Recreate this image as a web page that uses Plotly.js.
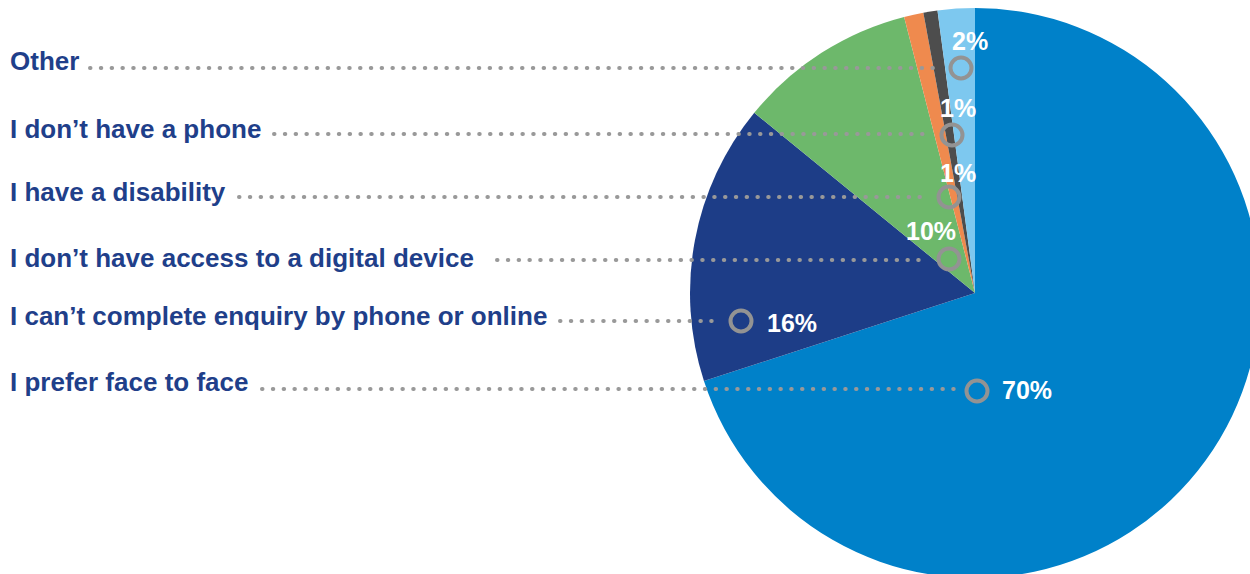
<!DOCTYPE html>
<html>
<head>
<meta charset="utf-8">
<script src="https://cdn.plot.ly/plotly-3.0.1.min.js"></script>
<style>
  html, body { margin: 0; padding: 0; overflow: hidden; background: #ffffff; }
  #chart { width: 1262px; height: 580px; }
  .shapelayer path { stroke-linecap: round; }
</style>
</head>
<body>
<div id="chart"></div>
<script>
// ---- data ----
var categories = [
  "I prefer face to face",
  "I can\u2019t complete enquiry by phone or online",
  "I don\u2019t have access to a digital device",
  "I have a disability",
  "I don\u2019t have a phone",
  "Other"
];
var shares = [70.0, 15.9, 10.1, 1.1, 0.8, 2.1];
var colors = ["#0081C9", "#1D3D87", "#6DB86B", "#EF8A4E", "#4D4D4D", "#7DC8EF"];

// ---- layout helpers (pixel positions of the callouts) ----
var W = 1262, H = 580;
function px(x) { return x / W; }
function py(y) { return 1 - y / H; }

// label rows: [label cap-centre y, dots start x, dots y, ring centre x, ring centre y, pct text x, pct text y]
var rows = [
  [381, 262, 389, 977, 391, 1000, 389],
  [315, 560, 321, 741, 321, 765, 322],
  [257, 497, 260, 949, 259, 904, 230],
  [191, 239, 197, 949, 197, 938, 172],
  [128, 274, 134, 952, 135, 938, 107],
  [60, 90, 68, 961, 68, 950, 40]
];

var textNavy = "#1F3F8A";
var ringGray = "#939393";

var annotations = [];
var shapes = [];
categories.forEach(function (c, i) {
  var r = rows[i];
  annotations.push({
    xref: "paper", yref: "paper", x: px(8), y: py(r[0] + 1),
    xanchor: "left", yanchor: "middle", showarrow: false,
    text: c,
    font: { family: "Liberation Sans, Arial, sans-serif", size: 26, color: textNavy, weight: "bold" }
  });
  annotations.push({
    xref: "paper", yref: "paper", x: px(r[5]), y: py(r[6] + 1),
    xanchor: "left", yanchor: "middle", showarrow: false,
    text: Math.round(shares[i]) + "%",
    font: { family: "Liberation Sans, Arial, sans-serif", size: 25, color: "#ffffff", weight: "bold" }
  });
  shapes.push({
    type: "line", xref: "paper", yref: "paper",
    x0: px(r[1]), x1: px(r[3] - 22), y0: py(r[2]), y1: py(r[2]),
    line: { color: "#999999", width: 4, dash: "0.5px,10.3px" }
  });
  shapes.push({
    type: "circle", xref: "paper", yref: "paper",
    x0: px(r[3] - 10.5), x1: px(r[3] + 10.5), y0: py(r[4] + 10.5), y1: py(r[4] - 10.5),
    line: { color: ringGray, width: 4 }, fillcolor: "rgba(0,0,0,0)"
  });
});

var trace = {
  type: "pie",
  labels: categories,
  values: shares,
  sort: false,
  direction: "clockwise",
  rotation: 0,
  textinfo: "none",
  hoverinfo: "label+percent",
  marker: { colors: colors, line: { width: 0 } },
  domain: { x: [690 / W, 1260 / W], y: [1 - 578 / H, 1 - 8 / H] },
  showlegend: false
};

var layout = {
  width: W, height: H,
  margin: { l: 0, r: 0, t: 0, b: 0 },
  paper_bgcolor: "#ffffff",
  showlegend: false,
  annotations: annotations,
  shapes: shapes
};

Plotly.newPlot("chart", [trace], layout, { displayModeBar: false, staticPlot: true });
</script>
</body>
</html>
